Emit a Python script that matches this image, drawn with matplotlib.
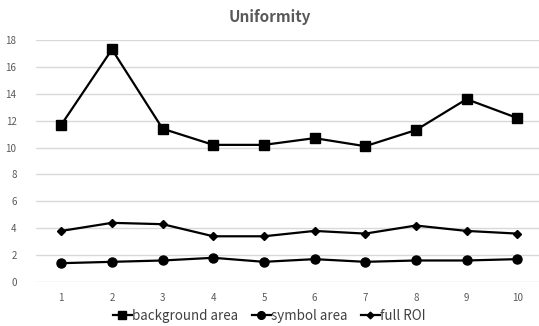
import matplotlib
matplotlib.use("Agg")
import matplotlib.pyplot as plt

plt.rcParams['font.family'] = ['Noto Sans CJK KR', 'DejaVu Sans']

x = [1, 2, 3, 4, 5, 6, 7, 8, 9, 10]
background = [11.7, 17.3, 11.4, 10.2, 10.2, 10.7, 10.1, 11.3, 13.6, 12.2]
symbol = [1.4, 1.5, 1.6, 1.8, 1.5, 1.7, 1.5, 1.6, 1.6, 1.7]
full_roi = [3.8, 4.4, 4.3, 3.4, 3.4, 3.8, 3.6, 4.2, 3.8, 3.6]
yticks = [0, 2, 4, 6, 8, 10, 12, 14, 16, 18]

fig = plt.figure(figsize=(5.39, 3.26), dpi=100)
ax = fig.add_axes([36 / 539, 44 / 326, 503 / 539, 242 / 326])

ax.plot(x, background, color='black', lw=1.6, marker='s', ms=6.5, label='background area')
ax.plot(x, symbol, color='black', lw=1.6, marker='o', ms=6.5, label='symbol area')
ax.plot(x, full_roi, color='black', lw=1.6, marker='D', ms=4, label='full ROI')

ax.set_xlim(0.5, 10.43)
ax.set_ylim(0, 18)
ax.set_yticks(yticks)
ax.set_xticks(x)
ax.grid(axis='y', color='#d9d9d9', lw=1)
ax.set_axisbelow(True)
for s in ax.spines.values():
    s.set_visible(False)
ax.tick_params(length=0, labelsize=7, colors='#595959', pad=8)
ax.tick_params(axis='y', pad=14)

fig.text(0.5, 1 - 17 / 326, 'Uniformity', ha='center', va='center',
         fontsize=11, fontweight='bold', color='#595959')
fig.legend(loc='center', bbox_to_anchor=(0.5, 1 - 316 / 326), ncol=3, frameon=False,
           fontsize=9.6, handlelength=1.4, handletextpad=0.05, columnspacing=1.0,
           labelcolor='#404040', markerscale=0.85)

fig.savefig('out.png', dpi=100)
